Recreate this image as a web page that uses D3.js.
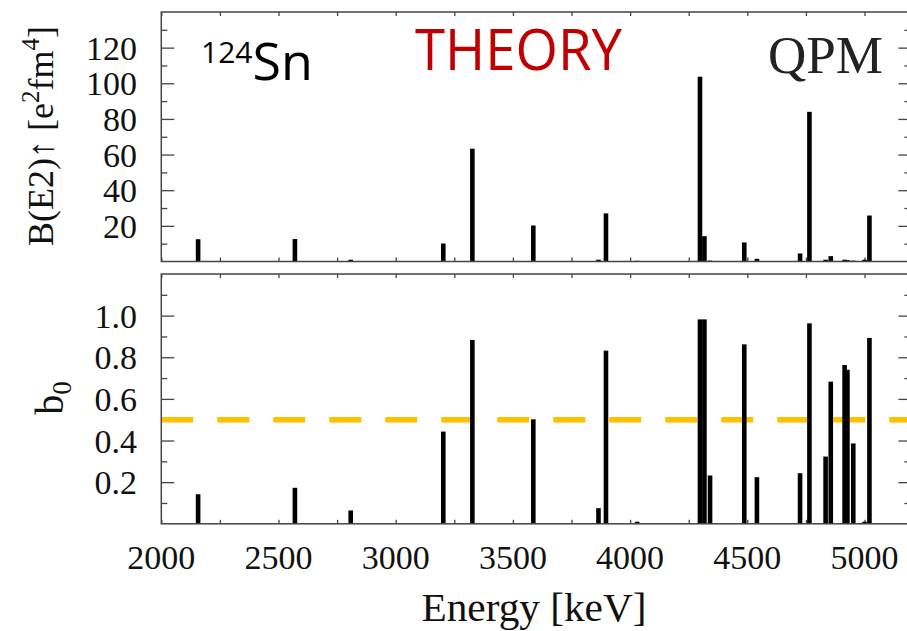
<!DOCTYPE html>
<html>
<head>
  <meta charset="UTF-8">
  <title>124Sn QPM B(E2) and b0</title>
  <style>
    body { margin: 0; padding: 0; background: #fff; }
    svg { display: block; }
  </style>
</head>
<body>
  <svg id="chart" width="907" height="631"></svg>

  <script src="https://d3js.org/d3.v7.min.js"></script>
  <script>
    // level energies (keV) with B(E2)up [e2fm4] and b0
    const energies = [2157, 2570, 2808, 3203, 3327, 3587, 3865, 3897, 4030, 4298, 4317, 4341,
                      4487, 4541, 4725, 4765, 4834, 4856, 4915, 4927, 4952, 5000, 5021];
    const bE2 =      [12.5, 12.6, 1.0, 10.1, 63.3, 20.2, 1.0, 27.0, 0.4, 103.7, 14.2, 0.5,
                      10.7, 1.5, 4.5, 84.0, 1.0, 3.0, 1.0, 0.8, 0.5, 1.0, 25.8];
    const b0 =       [0.142, 0.173, 0.064, 0.443, 0.883, 0.502, 0.075, 0.832, 0.01, 0.982, 0.982, 0.232,
                      0.862, 0.224, 0.243, 0.963, 0.323, 0.683, 0.763, 0.74, 0.386, 0.01, 0.893];
    const threshold = 0.5;

    const xTicks = [2000, 2500, 3000, 3500, 4000, 4500, 5000];
    const bE2Ticks = [20, 40, 60, 80, 100, 120];
    const b0Ticks = [0.2, 0.4, 0.6, 0.8, 1.0];

    const SERIF = "'Liberation Serif', 'Times New Roman', serif";
    const SANS = "'Open Sans', 'Noto Sans', sans-serif";

    const svg = d3.select("#chart");

    let x = d3.scaleLinear().domain([2000, 5200]).range([161.3, 911.4]);
    let yTop = d3.scaleLinear().domain([0, 140]).range([261.5, 12]);
    let yBot = d3.scaleLinear().domain([0, 1.2]).range([523.8, 274]);

    const barW = 4.6;
    const levels = energies.map((e, i) => ({ e: e, b: bE2[i], b0: b0[i] }));

    function panel(y, minor, major, labelFmt) {
      let g = svg.append("g");
      let [y0, y1] = y.range();
      let [x0, x1] = x.range();

      let xMinor = d3.range(2000, 5201, 250);
      // x ticks on bottom and top edges, short and inward
      g.append("g").attr("transform", "translate(0," + y0 + ")")
        .call(d3.axisBottom(x).tickValues(xMinor).tickSize(-4).tickFormat(""));
      g.append("g").attr("transform", "translate(0," + y1 + ")")
        .call(d3.axisTop(x).tickValues(xMinor).tickSize(-4).tickFormat(""));

      // y ticks on left and right, pointing inward
      g.append("g").attr("transform", "translate(" + x0 + ",0)")
        .call(d3.axisLeft(y).tickValues(major).tickSize(-13).tickFormat(""));
      g.append("g").attr("transform", "translate(" + x0 + ",0)")
        .call(d3.axisLeft(y).tickValues(minor).tickSize(-6).tickFormat(""));
      g.append("g").attr("transform", "translate(" + x1 + ",0)")
        .call(d3.axisRight(y).tickValues(major).tickSize(-13).tickFormat(""));
      g.append("g").attr("transform", "translate(" + x1 + ",0)")
        .call(d3.axisRight(y).tickValues(minor).tickSize(-7).tickFormat(""));

      g.selectAll(".domain").remove();
      g.selectAll(".tick line").attr("stroke", "#444").attr("stroke-width", 1.3);

      g.selectAll(".ylab")
        .data(major)
        .enter()
        .append("text")
        .attr("x", 137)
        .attr("y", d => y(d) + 12)
        .attr("text-anchor", "end")
        .style("font-family", SERIF)
        .style("font-size", "34px")
        .style("fill", "#111")
        .text(labelFmt);

      return g;
    }

    let gTop = panel(yTop, d3.range(10, 140, 20), bE2Ticks, d => d);
    let gBot = panel(yBot, d3.range(0.1, 1.2, 0.2), b0Ticks, d => d.toFixed(1));

    // dashed threshold line, drawn under the bars
    svg.append("line")
      .attr("x1", x(2000)).attr("x2", x(5200))
      .attr("y1", yBot(threshold)).attr("y2", yBot(threshold))
      .attr("stroke", "#FFC000")
      .attr("stroke-width", 5.5)
      .attr("stroke-dasharray", "32 24");

    gTop.selectAll("rect.bar")
      .data(levels)
      .enter()
      .append("rect")
      .attr("class", "bar")
      .attr("x", d => x(d.e) - barW / 2)
      .attr("width", barW)
      .attr("y", d => yTop(d.b))
      .attr("height", d => yTop(0) - yTop(d.b))
      .attr("fill", "#000");

    svg.selectAll("rect.bar0")
      .data(levels)
      .enter()
      .append("rect")
      .attr("class", "bar0")
      .attr("x", d => x(d.e) - barW / 2)
      .attr("width", barW)
      .attr("y", d => yBot(d.b0))
      .attr("height", d => yBot(0) - yBot(d.b0))
      .attr("fill", "#000");

    // frames
    [yTop, yBot].forEach(y => {
      svg.append("rect")
        .attr("x", x.range()[0])
        .attr("y", y.range()[1])
        .attr("width", x.range()[1] - x.range()[0])
        .attr("height", y.range()[0] - y.range()[1])
        .attr("fill", "none")
        .attr("stroke", "#444")
        .attr("stroke-width", 1.5);
    });

    // x tick labels
    svg.selectAll(".xlab")
      .data(xTicks)
      .enter()
      .append("text")
      .attr("x", d => x(d))
      .attr("y", 569)
      .attr("text-anchor", "middle")
      .style("font-family", SERIF)
      .style("font-size", "34px")
      .style("fill", "#111")
      .text(d => d);

    svg.append("text")
      .attr("x", 534)
      .attr("y", 621)
      .attr("text-anchor", "middle")
      .attr("textLength", 225)
      .attr("lengthAdjust", "spacingAndGlyphs")
      .style("font-family", SERIF)
      .style("font-size", "40px")
      .style("fill", "#111")
      .text("Energy [keV]");

    // y titles
    let t1 = svg.append("text")
      .attr("transform", "translate(53,136) rotate(-90)")
      .attr("text-anchor", "middle")
      .style("font-family", SERIF)
      .style("font-size", "36px")
      .style("fill", "#111");
    t1.append("tspan").text("B(E2)\u2191 [e");
    t1.append("tspan").attr("dy", -14).style("font-size", "25px").text("2");
    t1.append("tspan").attr("dy", 14).text("fm");
    t1.append("tspan").attr("dy", -14).style("font-size", "25px").text("4");
    t1.append("tspan").attr("dy", 14).text("]");

    let t2 = svg.append("text")
      .attr("transform", "translate(63,398) rotate(-90)")
      .attr("text-anchor", "middle")
      .style("font-family", SERIF)
      .style("font-size", "40px")
      .style("fill", "#111");
    t2.append("tspan").text("b");
    t2.append("tspan").attr("dy", 8).style("font-size", "27px").text("0");

    // annotations
    let iso = svg.append("text")
      .attr("x", 201)
      .attr("y", 80)
      .style("font-family", SANS)
      .style("fill", "#000");
    iso.append("tspan").attr("dy", -17).style("font-size", "30px").text("124");
    iso.append("tspan").attr("dy", 17).style("font-size", "52px").text("Sn");

    svg.append("text")
      .attr("x", 415)
      .attr("y", 70)
      .attr("textLength", 207)
      .attr("lengthAdjust", "spacingAndGlyphs")
      .style("font-family", SANS)
      .style("font-size", "57px")
      .style("fill", "#C00000")
      .text("THEORY");

    svg.append("text")
      .attr("x", 768)
      .attr("y", 73)
      .attr("textLength", 115)
      .attr("lengthAdjust", "spacingAndGlyphs")
      .style("font-family", SERIF)
      .style("font-size", "53px")
      .style("fill", "#222")
      .text("QPM");
  </script>
</body>
</html>
